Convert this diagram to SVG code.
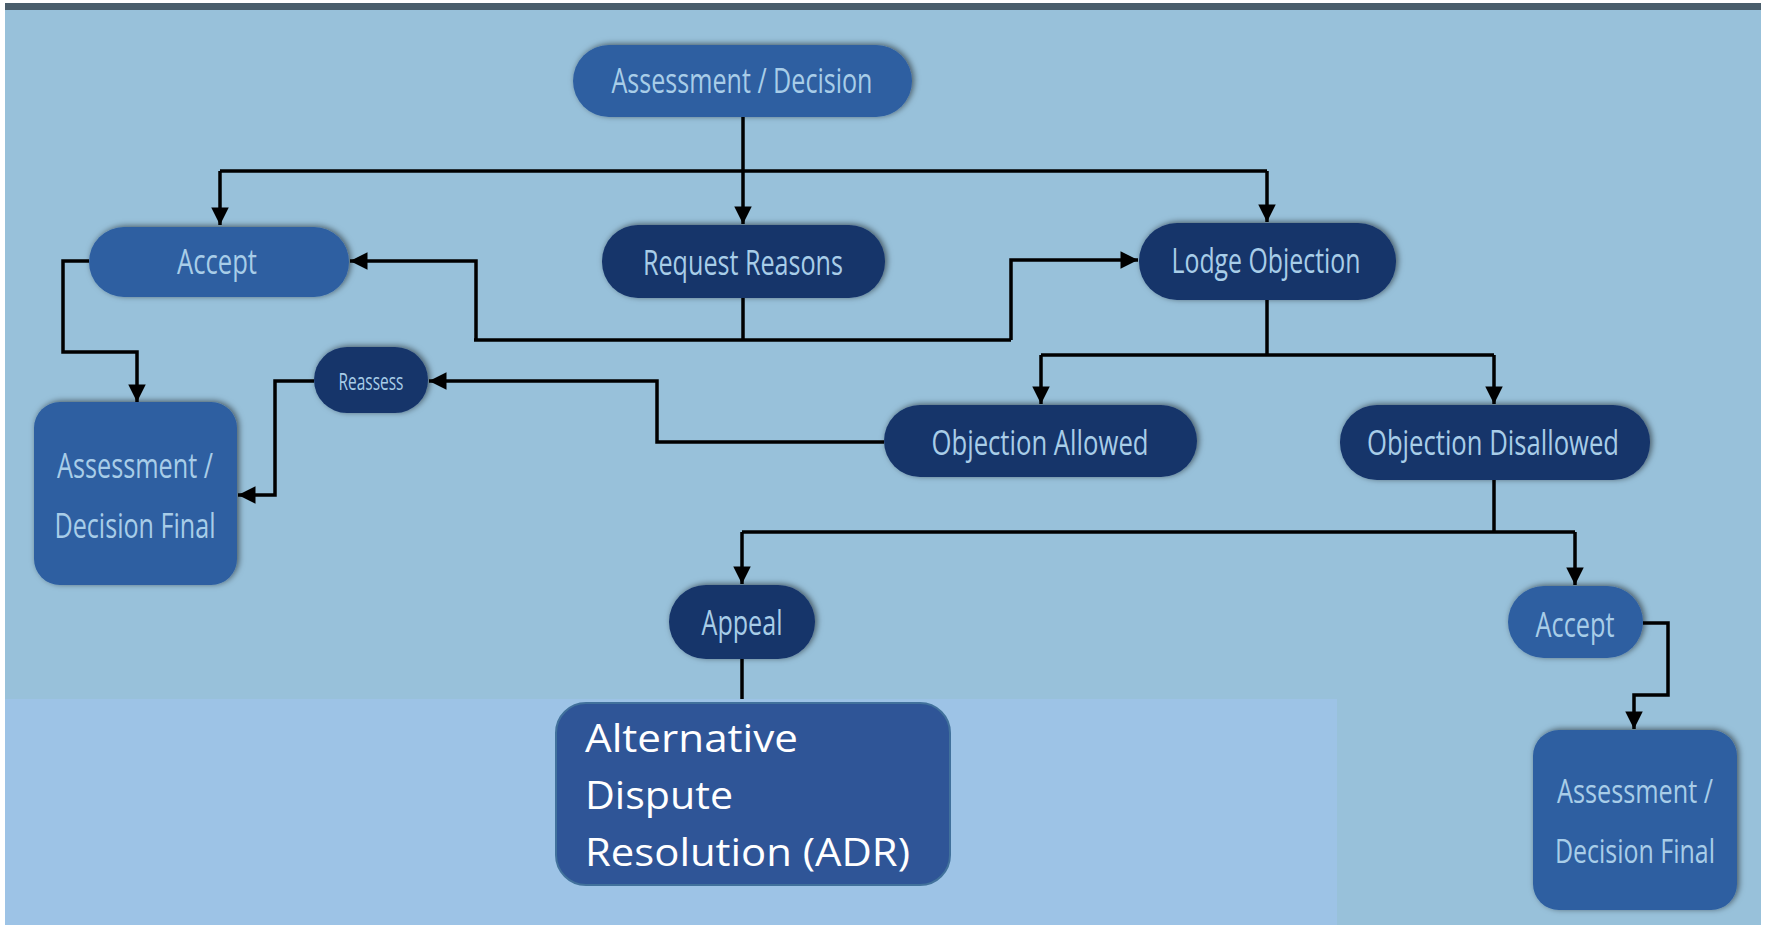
<svg xmlns="http://www.w3.org/2000/svg" width="1767" height="925" viewBox="0 0 1767 925">
<defs>
<style>
.mid{fill:#2d5fa1;}
.dark{fill:#15346a;}
.lbl{font-family:"Liberation Sans Narrow","Open Sans","Liberation Sans",sans-serif;font-size:34px;fill:#a8cde8;text-anchor:middle;}
.adr{font-family:"Open Sans","Liberation Sans",sans-serif;font-size:39px;fill:#ffffff;}
.wire{fill:none;stroke:#000;stroke-width:3.5;}
</style>
<filter id="sh" x="-10%" y="-30%" width="120%" height="160%">
<feDropShadow dx="2" dy="-1" stdDeviation="3" flood-color="#000" flood-opacity="0.55"/>
</filter>
<marker id="ah" viewBox="0 0 10 10" refX="10" refY="5" markerWidth="5.2" markerHeight="5" orient="auto" markerUnits="strokeWidth">
<path d="M0,0 L10,5 L0,10 z" fill="#000"/>
</marker>
</defs>
<rect x="0" y="0" width="1767" height="925" fill="#ffffff"/>
<rect x="5" y="3" width="1756" height="922" fill="#98c1da"/>
<rect x="5" y="3" width="1756" height="7" fill="#4a5e6c"/>
<rect x="5" y="699" width="1332" height="226" fill="#9dc3e6"/>

<g id="connectors">
<path class="wire" d="M743,117 V171"/>
<path class="wire" d="M220,171 H1267"/>
<path class="wire" d="M220,171 V225" marker-end="url(#ah)"/>
<path class="wire" d="M743,171 V224" marker-end="url(#ah)"/>
<path class="wire" d="M1267,171 V222" marker-end="url(#ah)"/>
<path class="wire" d="M743,298 V340"/>
<path class="wire" d="M474,340 H1011"/>
<path class="wire" d="M476,340 V261 H350" marker-end="url(#ah)"/>
<path class="wire" d="M1011,340 V260 H1138" marker-end="url(#ah)"/>
<path class="wire" d="M89,261 H63 V352 H137 V402" marker-end="url(#ah)"/>
<path class="wire" d="M1267,300 V355"/>
<path class="wire" d="M1041,355 H1494"/>
<path class="wire" d="M1041,355 V404" marker-end="url(#ah)"/>
<path class="wire" d="M1494,355 V404" marker-end="url(#ah)"/>
<path class="wire" d="M884,442 H657 V381 H429" marker-end="url(#ah)"/>
<path class="wire" d="M314,381 H275 V495 H238" marker-end="url(#ah)"/>
<path class="wire" d="M1494,480 V532"/>
<path class="wire" d="M742,532 H1575"/>
<path class="wire" d="M742,532 V584" marker-end="url(#ah)"/>
<path class="wire" d="M1575,532 V585" marker-end="url(#ah)"/>
<path class="wire" d="M742,659 V699"/>
<path class="wire" d="M1643,623 H1668 V695 H1634 V729" marker-end="url(#ah)"/>
</g>

<g id="n-assessment-decision">
<rect class="mid" x="573" y="45" width="339" height="72" rx="36" filter="url(#sh)"/>
<text class="lbl" x="742" y="93" textLength="261" lengthAdjust="spacingAndGlyphs">Assessment / Decision</text>
</g>
<g id="n-accept-top">
<rect class="mid" x="89" y="227" width="260" height="70" rx="35" filter="url(#sh)"/>
<text class="lbl" x="217" y="274" textLength="80" lengthAdjust="spacingAndGlyphs">Accept</text>
</g>
<g id="n-request-reasons">
<rect class="dark" x="602" y="225" width="283" height="73" rx="36" filter="url(#sh)"/>
<text class="lbl" x="743" y="275" textLength="200" lengthAdjust="spacingAndGlyphs">Request Reasons</text>
</g>
<g id="n-lodge-objection">
<rect class="dark" x="1139" y="223" width="257" height="77" rx="38" filter="url(#sh)"/>
<text class="lbl" x="1266" y="273" textLength="189" lengthAdjust="spacingAndGlyphs">Lodge Objection</text>
</g>
<g id="n-reassess">
<rect class="dark" x="314" y="347" width="114" height="66" rx="33" filter="url(#sh)"/>
<text class="lbl" x="371" y="390" style="font-size:24px" textLength="65" lengthAdjust="spacingAndGlyphs">Reassess</text>
</g>
<g id="n-final-left">
<rect class="mid" x="34" y="402" width="203" height="183" rx="26" filter="url(#sh)"/>
<text class="lbl" x="135" y="478" textLength="156" lengthAdjust="spacingAndGlyphs">Assessment /</text>
<text class="lbl" x="135" y="538" textLength="161" lengthAdjust="spacingAndGlyphs">Decision Final</text>
</g>
<g id="n-objection-allowed">
<rect class="dark" x="884" y="405" width="313" height="72" rx="36" filter="url(#sh)"/>
<text class="lbl" x="1040" y="455" textLength="217" lengthAdjust="spacingAndGlyphs">Objection Allowed</text>
</g>
<g id="n-objection-disallowed">
<rect class="dark" x="1340" y="405" width="310" height="75" rx="37" filter="url(#sh)"/>
<text class="lbl" x="1493" y="455" textLength="252" lengthAdjust="spacingAndGlyphs">Objection Disallowed</text>
</g>
<g id="n-appeal">
<rect class="dark" x="669" y="585" width="146" height="74" rx="37" filter="url(#sh)"/>
<text class="lbl" x="742" y="635" textLength="81" lengthAdjust="spacingAndGlyphs">Appeal</text>
</g>
<g id="n-accept-bottom">
<rect class="mid" x="1508" y="586" width="135" height="72" rx="36" filter="url(#sh)"/>
<text class="lbl" x="1575" y="637" textLength="79" lengthAdjust="spacingAndGlyphs">Accept</text>
</g>
<g id="n-final-right">
<rect class="mid" x="1533" y="730" width="204" height="180" rx="26" filter="url(#sh)"/>
<text class="lbl" x="1635" y="803" style="font-size:32px" textLength="156" lengthAdjust="spacingAndGlyphs">Assessment /</text>
<text class="lbl" x="1635" y="863" style="font-size:32px" textLength="160" lengthAdjust="spacingAndGlyphs">Decision Final</text>
</g>
<g id="n-adr">
<rect x="556" y="703" width="394" height="182" rx="30" fill="#2f5597" stroke="#41719c" stroke-width="2"/>
<text class="adr" x="585" y="752" textLength="213" lengthAdjust="spacingAndGlyphs">Alternative</text>
<text class="adr" x="585" y="809" textLength="148" lengthAdjust="spacingAndGlyphs">Dispute</text>
<text class="adr" x="585" y="866" textLength="325" lengthAdjust="spacingAndGlyphs">Resolution (ADR)</text>
</g>
</svg>
